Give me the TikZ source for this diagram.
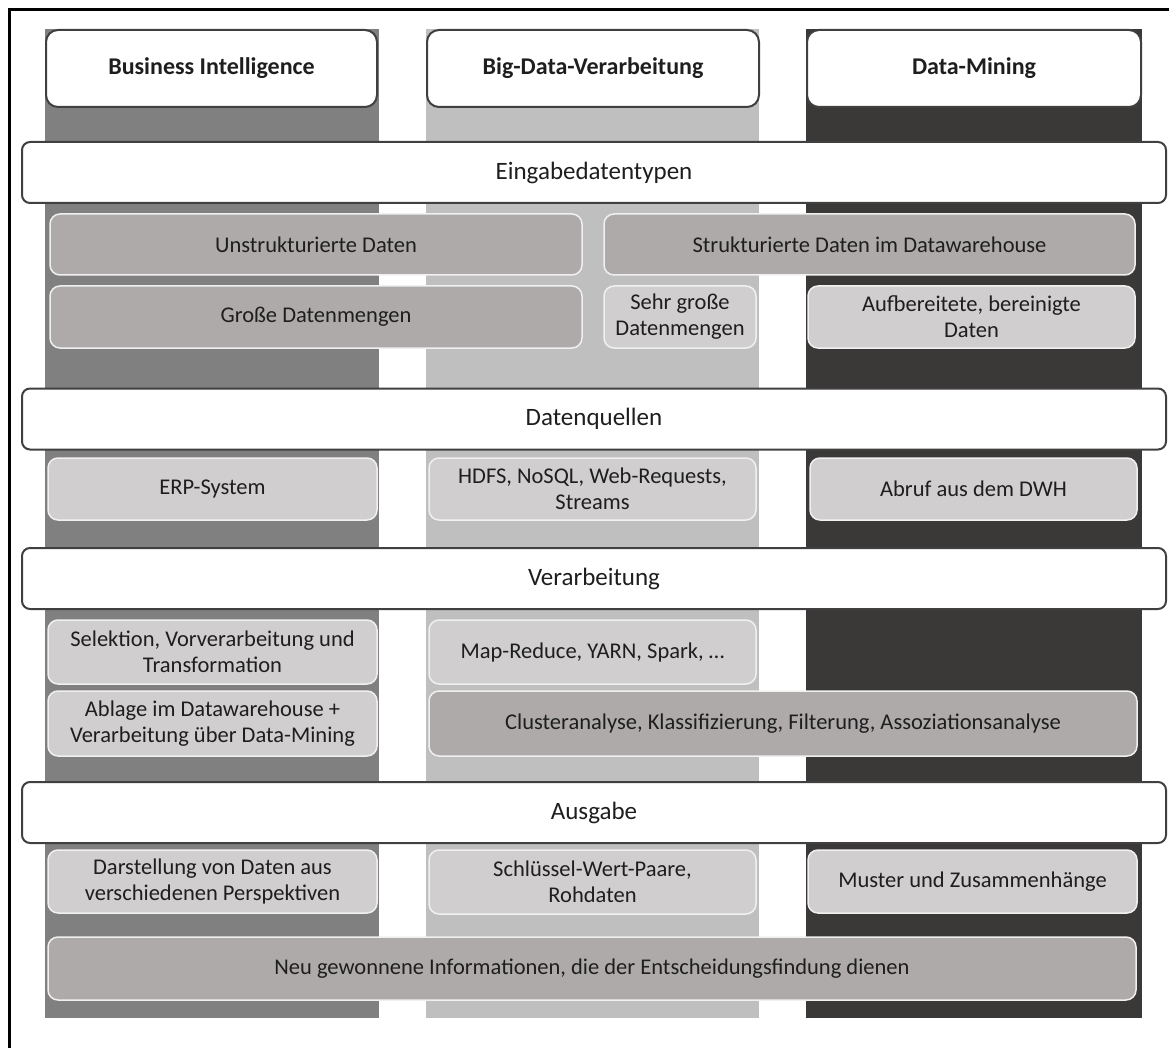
\documentclass[tikz,border=0pt]{standalone}
\usepackage{fontspec}
\setmainfont{Carlito}
\definecolor{colBI}{HTML}{808080}
\definecolor{colBD}{HTML}{BFBFBF}
\definecolor{colDM}{HTML}{3B3838}
\definecolor{boxdark}{HTML}{AEAAAA}
\definecolor{boxlight}{HTML}{D0CECE}
\definecolor{txt}{HTML}{1E1E1E}

\begin{document}
\begin{tikzpicture}[x=1pt, y=-1pt,
	every node/.style={font=\fontsize{22.5}{26}\selectfont, text=txt, align=center, inner sep=0pt},
	head/.style={draw=black!75, line width=2pt, fill=white, rounded corners=12pt, minimum height=77pt, font=\fontsize{24}{28}\selectfont\bfseries},
	band/.style={draw=black!75, line width=2pt, fill=white, rounded corners=8pt, minimum width=1144pt, minimum height=61pt, font=\fontsize{25}{30}\selectfont},
	cell/.style={draw=white!94!black, line width=1.5pt, rounded corners=10pt},
	darkcell/.style={cell, fill=boxdark},
	lightcell/.style={cell, fill=boxlight}]
	\useasboundingbox (0,0) rectangle (1169,1048);
	% frame
	\draw[line width=3pt] (9.5,1048) -- (9.5,9.5) -- (1169,9.5);
	% columns
	\fill[colBI] (45,29) rectangle (379,1018);
	\fill[colBD] (426,29) rectangle (759,1018);
	\fill[colDM] (806,29) rectangle (1142,1018);
	\node[head, minimum width=331pt] (bi) at (211.5,68.5) {Business Intelligence};
	\node[head, minimum width=332pt] (bd) at (593,68.5) {Big-Data-Verarbeitung};
	\node[head, minimum width=334pt] (dm) at (974,68.5) {Data-Mining};
	% Eingabedatentypen
	\node[band] (eingabe) at (594,172.5) {Eingabedatentypen};
	\node[darkcell, minimum width=532pt, minimum height=61pt] (unstrukt) at (316,244.5) {Unstrukturierte Daten};
	\node[darkcell, minimum width=531pt, minimum height=61pt] (strukt) at (869.5,244.5) {Strukturierte Daten im Datawarehouse};
	\node[darkcell, minimum width=532pt, minimum height=62pt] (gross) at (316,317) {Große Datenmengen};
	\node[lightcell, minimum width=152pt, minimum height=62pt] (sehrgross) at (680,317) {Sehr große\\Datenmengen};
	\node[lightcell, minimum width=327pt, minimum height=62pt] (aufber) at (971.5,317) {Aufbereitete, bereinigte\\Daten};
	% Datenquellen
	\node[band] (quellen) at (594,419) {Datenquellen};
	\node[lightcell, minimum width=329pt, minimum height=62pt] (erp) at (212.5,489) {ERP-System};
	\node[lightcell, minimum width=327pt, minimum height=62pt] (hdfs) at (592.5,489) {HDFS, NoSQL, Web-Requests,\\Streams};
	\node[lightcell, minimum width=327pt, minimum height=62pt] (abruf) at (973.5,489) {Abruf aus dem DWH};
	% Verarbeitung
	\node[band] (verarb) at (594,578.5) {Verarbeitung};
	\node[lightcell, minimum width=329pt, minimum height=64pt] (selekt) at (212.5,652) {Selektion, Vorverarbeitung und\\Transformation};
	\node[lightcell, minimum width=329pt, minimum height=65pt] (ablage) at (212.5,723.5) {Ablage im Datawarehouse +\\Verarbeitung über Data-Mining};
	\node[lightcell, minimum width=327pt, minimum height=64pt] (mapred) at (592.5,652) {Map-Reduce, YARN, Spark, \dots};
	\node[darkcell, minimum width=708pt, minimum height=65pt] (cluster) at (783,723.5) {Clusteranalyse, Klassifizierung, Filterung, Assoziationsanalyse};
	% Ausgabe
	\node[band] (ausgabe) at (594,812.5) {Ausgabe};
	\node[lightcell, minimum width=329pt, minimum height=63pt] (darst) at (212.5,881.5) {Darstellung von Daten aus\\verschiedenen Perspektiven};
	\node[lightcell, minimum width=327pt, minimum height=64pt] (paare) at (592.5,882) {Schlüssel-Wert-Paare,\\Rohdaten};
	\node[lightcell, minimum width=329pt, minimum height=63pt] (muster) at (972.5,881.5) {Muster und Zusammenhänge};
	\node[darkcell, minimum width=1088pt, minimum height=63pt] (neu) at (592,968.5) {Neu gewonnene Informationen, die der Entscheidungsfindung dienen};
\end{tikzpicture}
\end{document}
